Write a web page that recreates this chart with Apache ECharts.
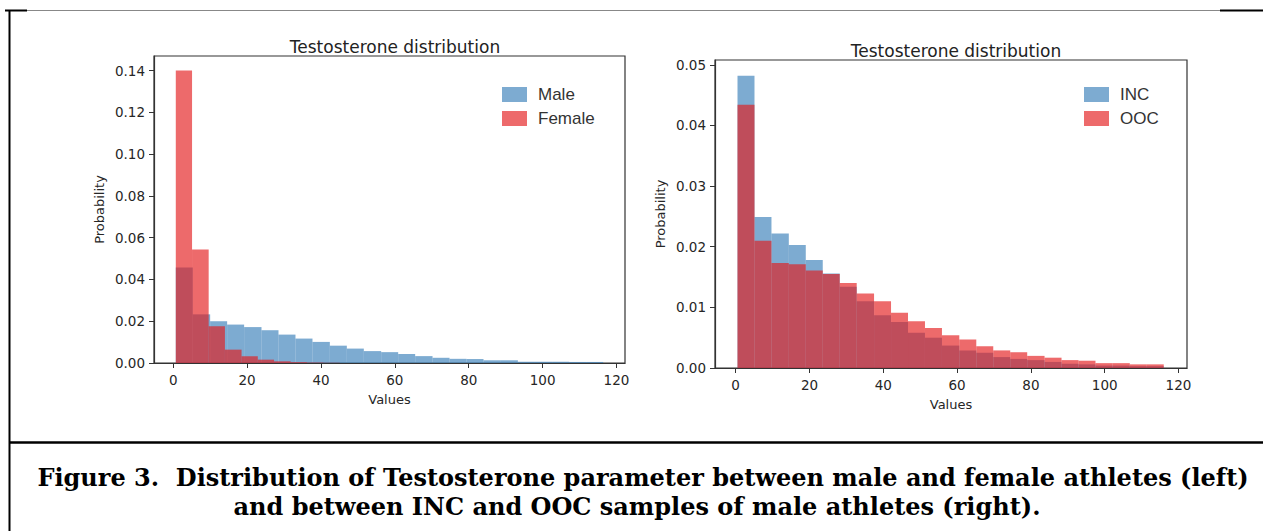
<!DOCTYPE html>
<html>
<head>
<meta charset="utf-8">
<script src="https://cdn.jsdelivr.net/npm/echarts@6/dist/echarts.min.js"></script>
<style>
html,body{margin:0;padding:0;background:#fff;}
#chart{width:1263px;height:531px;}
</style>
</head>
<body>
<div id="chart"></div>
<script>
// ---- data ----
const chartTitle = 'Testosterone distribution';
const xTickValues = [0, 20, 40, 60, 80, 100, 120];
const yTickValuesLeft = [0, 0.02, 0.04, 0.06, 0.08, 0.10, 0.12, 0.14];
const yTickValuesRight = [0, 0.01, 0.02, 0.03, 0.04, 0.05];

// Left panel: Male vs Female
const maleEdges = [0.7, 5.3, 10.0, 14.6, 19.2, 23.9, 28.5, 33.1, 37.7, 42.4, 47.0, 51.6, 56.3,
  60.9, 65.5, 70.2, 74.8, 79.4, 84.0, 88.7, 93.3, 97.9, 102.6, 107.2, 111.8, 116.4];
const maleValues = [0.0457, 0.0233, 0.0200, 0.0184, 0.0172, 0.0157, 0.0136, 0.0117, 0.0101, 0.0083,
  0.0069, 0.0057, 0.0052, 0.0043, 0.0033, 0.0025, 0.0020, 0.0019, 0.0013, 0.0013,
  0.0006, 0.0006, 0.0006, 0.0005, 0.0005];
const femaleEdges = [0.7, 5.1, 9.6, 14.0, 18.5, 22.9, 27.3, 31.8, 36.2, 40.7, 45.1];
const femaleValues = [0.1400, 0.0544, 0.0176, 0.0064, 0.0032, 0.0016, 0.0008, 0.0004, 0.0002, 0.0001];

// Right panel: INC vs OOC
const rightEdges = [0.5, 5.1, 9.7, 14.4, 19.0, 23.6, 28.2, 32.8, 37.5, 42.1, 46.7, 51.3, 55.9,
  60.6, 65.2, 69.8, 74.4, 79.0, 83.7, 88.3, 92.9, 97.5, 102.1, 106.8, 111.4, 116.0];
const incValues = [0.0482, 0.0249, 0.0222, 0.0203, 0.0178, 0.0156, 0.0134, 0.0110, 0.0087, 0.0076,
  0.0058, 0.0050, 0.0037, 0.0029, 0.0025, 0.0018, 0.0015, 0.0013, 0.0010, 0.0007,
  0.0006, 0.0004, 0.0004, 0.0003, 0.0003];
const oocValues = [0.0434, 0.0210, 0.0173, 0.0171, 0.0161, 0.0155, 0.0140, 0.0123, 0.0110, 0.0091,
  0.0077, 0.0066, 0.0054, 0.0047, 0.0036, 0.0029, 0.0026, 0.0020, 0.0017, 0.0013,
  0.0012, 0.0008, 0.0008, 0.0006, 0.0006];

const captionLine1 = 'Figure 3.  Distribution of Testosterone parameter between male and female athletes (left)';
const captionLine2 = 'and between INC and OOC samples of male athletes (right).';

// ---- build ----
const BLUE = 'rgba(55,126,184,0.65)';
const RED = 'rgba(228,26,28,0.65)';
const AX = '#333';
const TXT = '#262626';

function bins(edges, values) {
  return values.map((v, i) => [edges[i], edges[i + 1], v]);
}
function renderBar(params, api) {
  const p0 = api.coord([api.value(0), api.value(2)]);
  const p1 = api.coord([api.value(1), 0]);
  return {
    type: 'rect',
    shape: { x: p0[0], y: p0[1], width: p1[0] - p0[0], height: p1[1] - p0[1] },
    style: api.style()
  };
}
function histSeries(name, idx, edges, values, color) {
  return {
    type: 'custom', name: name, xAxisIndex: idx, yAxisIndex: idx,
    renderItem: renderBar, clip: true,
    itemStyle: { color: color },
    encode: { x: [0, 1], y: 2 },
    data: bins(edges, values),
    silent: true
  };
}
function xAxisDef(idx, min, max) {
  return {
    type: 'value', gridIndex: idx, min: min, max: max,
    name: 'Values', nameLocation: 'middle', nameGap: 30,
    nameTextStyle: { fontFamily: 'DejaVu Sans', fontSize: 13, color: TXT },
    axisLine: { show: true, onZero: false, lineStyle: { color: AX, width: 1.2 } },
    axisTick: { show: true, inside: false, length: 5, customValues: xTickValues, lineStyle: { color: AX, width: 1 } },
    axisLabel: { show: true, customValues: xTickValues, margin: 10, fontFamily: 'DejaVu Sans', fontSize: 13.5, color: TXT,
      formatter: v => String(Math.round(v)) },
    splitLine: { show: false }
  };
}
function yAxisDef(idx, max, ticks) {
  return {
    type: 'value', gridIndex: idx, min: 0, max: max,
    name: 'Probability', nameLocation: 'middle', nameGap: 48,
    nameTextStyle: { fontFamily: 'DejaVu Sans', fontSize: 13, color: TXT },
    axisLine: { show: true, onZero: false, lineStyle: { color: AX, width: 1.2 } },
    axisTick: { show: true, inside: false, length: 5, customValues: ticks, lineStyle: { color: AX, width: 1 } },
    axisLabel: { show: true, customValues: ticks, margin: 9, fontFamily: 'DejaVu Sans', fontSize: 13.5, color: TXT,
      formatter: v => v.toFixed(2) },
    splitLine: { show: false }
  };
}
function legendDef(left, names) {
  return {
    orient: 'vertical', left: left, top: 81, data: names,
    icon: 'rect', itemWidth: 25, itemHeight: 15, itemGap: 7,
    selectedMode: false,
    textStyle: { fontFamily: 'Liberation Sans', fontSize: 17, color: '#333', lineHeight: 15, padding: [0, 0, 0, 6] }
  };
}

const chart = echarts.init(document.getElementById('chart'), null, { renderer: 'svg' });
chart.setOption({
  animation: false,
  backgroundColor: '#fff',
  title: [
    { text: chartTitle, left: 390, top: 33, textAlign: 'center',
      textStyle: { fontFamily: 'DejaVu Sans', fontSize: 17, fontWeight: 'normal', color: '#222' } },
    { text: chartTitle, left: 951, top: 37, textAlign: 'center',
      textStyle: { fontFamily: 'DejaVu Sans', fontSize: 17, fontWeight: 'normal', color: '#222' } }
  ],
  legend: [legendDef(497, ['Male', 'Female']), legendDef(1079, ['INC', 'OOC'])],
  grid: [
    { left: 154, top: 56, width: 471, height: 307, show: true, borderColor: AX, borderWidth: 1.2, backgroundColor: 'transparent' },
    { left: 715, top: 60, width: 472, height: 308, show: true, borderColor: AX, borderWidth: 1.2, backgroundColor: 'transparent' }
  ],
  xAxis: [xAxisDef(0, -5.2, 122.3), xAxisDef(1, -5.6, 122.3)],
  yAxis: [yAxisDef(0, 0.147, yTickValuesLeft), yAxisDef(1, 0.0508, yTickValuesRight)],
  series: [
    histSeries('Male', 0, maleEdges, maleValues, BLUE),
    histSeries('Female', 0, femaleEdges, femaleValues, RED),
    histSeries('INC', 1, rightEdges, incValues, BLUE),
    histSeries('OOC', 1, rightEdges, oocValues, RED)
  ],
  graphic: [
    { type: 'line', shape: { x1: 5, y1: 10.5, x2: 1263, y2: 10.5 }, style: { stroke: '#888', lineWidth: 1 } },
    { type: 'line', shape: { x1: 5, y1: 10.5, x2: 27, y2: 10.5 }, style: { stroke: '#000', lineWidth: 2 } },
    { type: 'line', shape: { x1: 1220, y1: 10.5, x2: 1263, y2: 10.5 }, style: { stroke: '#000', lineWidth: 2 } },
    { type: 'line', shape: { x1: 9.5, y1: 10, x2: 9.5, y2: 531 }, style: { stroke: '#000', lineWidth: 2 } },
    { type: 'line', shape: { x1: 9, y1: 442.5, x2: 1263, y2: 442.5 }, style: { stroke: '#000', lineWidth: 2.5 } },
    { type: 'text', x: 643, y: 477, style: { text: captionLine1, fontFamily: 'DejaVu Serif', fontWeight: 'bold',
      fontSize: 24, fill: '#000', align: 'center', verticalAlign: 'middle' } },
    { type: 'text', x: 637, y: 506, style: { text: captionLine2, fontFamily: 'DejaVu Serif', fontWeight: 'bold',
      fontSize: 24, fill: '#000', align: 'center', verticalAlign: 'middle' } }
  ]
});
</script>
</body>
</html>
